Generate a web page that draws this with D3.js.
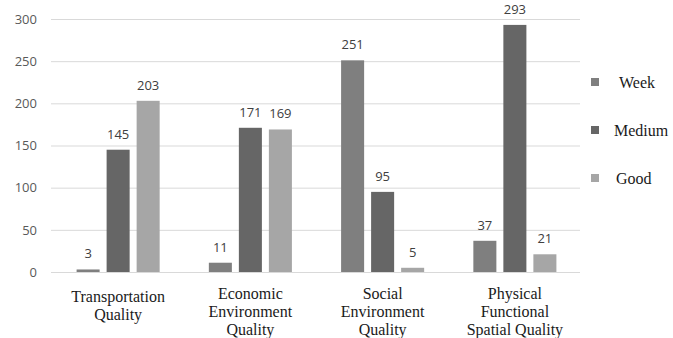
<!DOCTYPE html>
<html>
<head>
<meta charset="utf-8">
<script src="https://cdn.jsdelivr.net/npm/d3@7"></script>
<style>
  body { margin: 0; background: #fff; }
  svg { display: block; }
  .tick-label { font-family: "Open Sans", "Liberation Sans", sans-serif; font-size: 13px; fill: #595959; }
  .value-label { font-family: "Open Sans", "Liberation Sans", sans-serif; font-size: 13px; fill: #404040; }
  .cat-label, .legend-label { font-family: "Liberation Serif", "DejaVu Serif", serif; font-size: 16px; fill: #1a1a1a; }
</style>
</head>
<body>
<div id="chart"></div>
<script>
// data
const categories = [
  "Transportation\nQuality",
  "Economic\nEnvironment\nQuality",
  "Social\nEnvironment\nQuality",
  "Physical\nFunctional\nSpatial Quality"
]
const seriesNames = ["Week", "Medium", "Good"]
const week   = [3, 11, 251, 37]
const medium = [145, 171, 95, 293]
const good   = [203, 169, 5, 21]
const yTicks = [0, 50, 100, 150, 200, 250, 300]

const seriesValues = [week, medium, good]
const colors = ["#7f7f7f", "#666666", "#a6a6a6"]

const width  = 673
const height = 338
const plot = {left: 51, right: 580, top: 19, bottom: 272}

const svg = d3.select("#chart")
  .append("svg")
  .attr("width", width)
  .attr("height", height)

let y = d3.scaleLinear()
  .domain([0, 300])
  .range([plot.bottom, plot.top])

let x0 = d3.scaleBand()
  .domain(categories)
  .range([plot.left + 1, plot.right + 1])
  .paddingInner(0.372)
  .paddingOuter(0.186)

let x1 = d3.scaleBand()
  .domain(seriesNames)
  .range([0, x0.bandwidth()])
  .paddingInner(0.233)

// gridlines + y tick labels
let yAxis = d3.axisLeft(y)
  .tickValues(yTicks)
  .tickSize(-(plot.right - plot.left))
  .tickPadding(14)

let gy = svg.append("g")
  .attr("transform", "translate(" + plot.left + ",0)")
  .call(yAxis)

gy.select(".domain").remove()
gy.selectAll(".tick line").attr("stroke", "#d9d9d9")
gy.selectAll(".tick text").attr("class", "tick-label").attr("fill", null)

// bars
let rows = []
categories.forEach(function(c, i){
  seriesNames.forEach(function(s, j){
    rows.push({cat: c, series: s, value: seriesValues[j][i], color: colors[j]})
  })
})

let bars = svg.append("g")
bars.selectAll("rect")
  .data(rows)
  .join("rect")
  .attr("x", function(d){ return x0(d.cat) + x1(d.series) })
  .attr("y", function(d){ return y(d.value) })
  .attr("width", x1.bandwidth())
  .attr("height", function(d){ return y(0) - y(d.value) })
  .attr("fill", function(d){ return d.color })

bars.selectAll("text")
  .data(rows)
  .join("text")
  .attr("class", "value-label")
  .attr("text-anchor", "middle")
  .attr("x", function(d){ return x0(d.cat) + x1(d.series) + x1.bandwidth() / 2 })
  .attr("y", function(d){ return y(d.value) - 11 })
  .text(function(d){ return d.value })

// category labels (serif, multi-line)
let cats = svg.append("g")
categories.forEach(function(c){
  let lines = c.split("\n")
  let startY = lines.length == 2 ? 296 : 293
  let t = cats.append("text")
    .attr("class", "cat-label")
    .attr("text-anchor", "middle")
  lines.forEach(function(line, k){
    t.append("tspan")
      .attr("x", x0(c) + x0.bandwidth() / 2)
      .attr("y", startY + k * 18)
      .attr("dy", "0.35em")
      .text(line)
  })
})

// legend
let legend = svg.append("g")
let legendY = [82, 130, 178]
let legendX = [619, 614, 616]
seriesNames.forEach(function(s, j){
  legend.append("rect")
    .attr("x", 591)
    .attr("y", legendY[j] - 4)
    .attr("width", 8)
    .attr("height", 8)
    .attr("fill", colors[j])
  legend.append("text")
    .attr("class", "legend-label")
    .attr("x", legendX[j])
    .attr("y", legendY[j])
    .attr("dy", "0.35em")
    .text(s)
})
</script>
</body>
</html>
